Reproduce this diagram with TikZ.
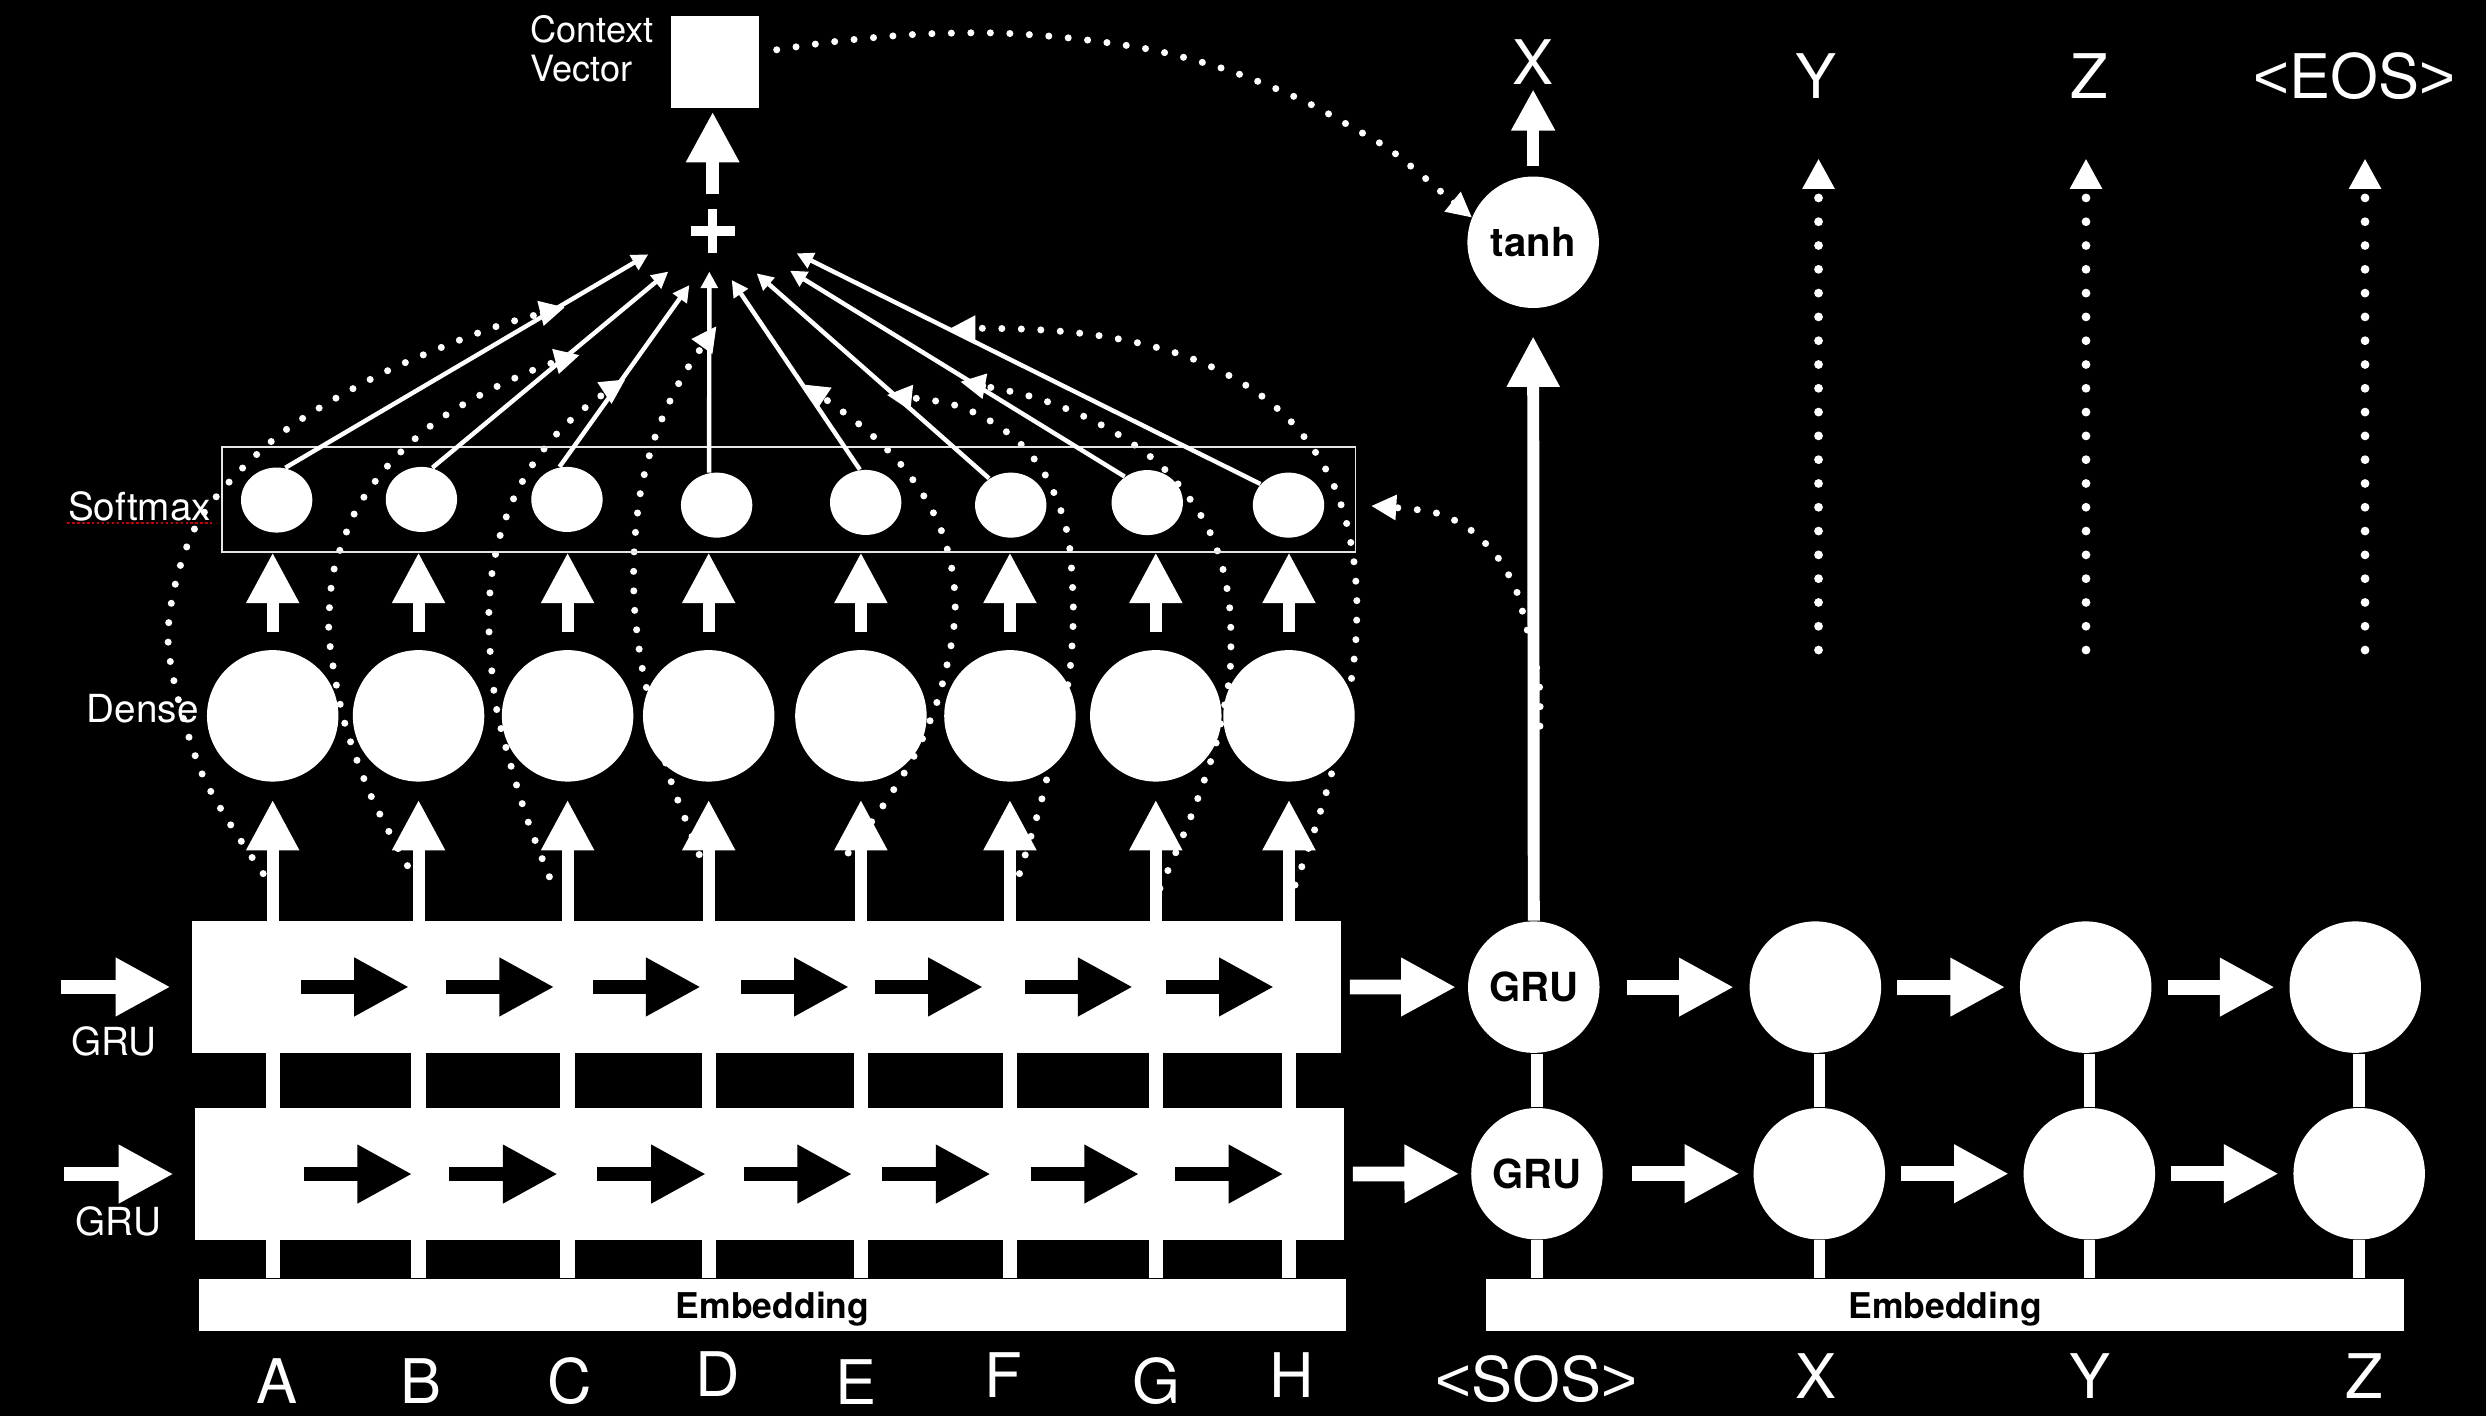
\documentclass[tikz,border=0pt]{standalone}
\usepackage{fontspec}
\setmainfont{TeX Gyre Heros}
\newfontfamily\brfont{Liberation Sans}
\usetikzlibrary{arrows.meta}
\usetikzlibrary{shapes.geometric}

\newcommand{\lt}{{\brfont <}}
\newcommand{\gt}{{\brfont >}}

\begin{document}
\begin{tikzpicture}[x=0.015855cm, y=-0.015855cm,
    neuron/.style={circle, fill=white, minimum size=37.4pt, inner sep=0pt,
      text=black, font=\fontsize{11.4}{13}\selectfont\bfseries},
    smax/.style={ellipse, fill=white, minimum width=20.3pt, minimum height=18.5pt, inner sep=0pt},
    gruband/.style={rectangle, fill=white, minimum width=327pt, minimum height=37.4pt, inner sep=0pt},
    embbox/.style={rectangle, fill=white, minimum height=14.9pt, inner sep=0pt, text depth=0pt,
      text=black, font=\fontsize{10.1}{12}\selectfont\bfseries},
    biglabel/.style={text=white, font=\fontsize{17.5}{21}\selectfont, inner sep=0pt, anchor=base},
    smalllabel/.style={text=white, font=\fontsize{11}{13}\selectfont, inner sep=0pt, anchor=base},
    uparrow/.style={white, line width=3.4pt, -{Triangle[width=14.2pt,length=14.4pt]}},
    rarrow/.style={line width=4.2pt, -{Triangle[width=15.6pt,length=15.6pt]}},
    attn/.style={white, line width=1.26pt, -{Triangle[width=4.7pt,length=4.7pt]}},
    dotline/.style={white, line width=2pt, line cap=round, dash pattern=on 0pt off 5.55pt,
      -{Triangle[width=6.8pt,length=7.2pt]}},
    bigdots/.style={white, line width=2.5pt, line cap=round, dash pattern=on 0pt off 6.77pt,
      -{Triangle[width=8.6pt,length=8.6pt]}},
    vbar/.style={white, line width=4.06pt},
    dbar/.style={white, line width=3.25pt}
  ]
  \fill[black] (0,0) rectangle (1568,893);
  \useasboundingbox (0,0) rectangle (1568,893);

  % dotted paths (behind everything)
  \draw[dotline] plot[smooth] coordinates {(166,551) (127,487) (106,403) (124,331) (174,276) (238,237) (307,208) (356.4,193.8)};
  \draw[dotline] plot[smooth] coordinates {(257,546) (234,502) (217,454.5) (208,406) (208,380.5) (211.5,356) (225,321) (247,291) (275,266) (307,247) (341,231.5) (365.8,223.9)};
  \draw[dotline] plot[smooth] coordinates {(346.5,553) (333,518) (322,482) (313,446) (309,409) (308.4,384) (310.7,359) (316.4,334.5) (325.4,311.4) (338,290) (354,270.6) (373,254) (394.6,239.2)};
  \draw[dotline] plot[smooth] coordinates {(441,539) (431.8,515.5) (423,492) (413,455) (404.7,419.4) (400.1,382) (400.1,345) (404.5,307.6) (414.6,271.6) (430.4,237.6) (452,205.6)};
  \draw[dotline] plot[smooth] coordinates {(535,538) (557.6,507.3) (577.7,474.7) (591.8,440.4) (600.4,404.3) (602.5,379.5) (599.6,354.8) (592.2,330.7) (580.3,309) (565.1,289.3) (547,271.8) (527.3,256.5) (506.7,242.4)};
  \draw[dotline] plot[smooth] coordinates {(643,551) (650.3,527.3) (657.4,503) (665,470) (673.8,430) (676.3,405) (676.9,380) (674.4,343) (668.1,319) (657.4,296.4) (641.2,277.5) (620.6,263.2) (597.3,254.2) (559.2,249.1)};
  \draw[dotline] plot[smooth] coordinates {(731.6,560.3) (741.7,537.6) (751.4,514.5) (760,490.9) (767.4,467.2) (775.1,430.3) (776.4,405) (775.3,380.3) (770.5,355.7) (761.5,332.2) (748.2,311.6) (731.4,292.9) (711.5,277.9) (689.8,265.5) (666.9,255.6) (642.9,248.1) (605.5,240.7)};
  \draw[dotline] plot[smooth] coordinates {(816.8,558.2) (825.2,535.3) (833,511.3) (840.1,487.1) (846,460) (852.7,426.4) (855.3,401.6) (855.7,376.3) (853.6,351.5) (848.5,326.9) (840.1,303.4) (827.3,281.7) (811.3,262.8) (792,247) (770.5,234.4) (747.4,224.5) (723.6,217.6) (699,212.6) (674.2,209.4) (649.2,207.7) (624.4,207.1) (599.2,207.1)};
  \draw[dotline] plot[smooth] coordinates {(971.3,458) (971,433) (967,410) (962.9,396) (956.2,372) (944,350.7) (926.1,333.2) (903.4,322.9) (864.7,319.1)};
  \draw[dotline] plot[smooth] coordinates {(489.9,31.4) (527.6,26.1) (577.2,21.7) (627.9,20.8) (675.8,24.1) (726.4,31.4) (774.3,44.2) (820.5,62.8) (854.3,81.1) (875.8,93.8) (894.9,109) (914,125.3) (928.5,137.3)};
  \foreach \x in {1147,1315.7,1491.7}
    \draw[bigdots] (\x,410) -- (\x,100);

  % encoder
  \node[gruband] (enc1) at (483.5,622.5) {};
  \node[gruband] (enc2) at (485.2,740.5) {};
  \node[embbox, minimum width=326.3pt] (emb) at (487.3,823.2) {Embedding};
  \node[smalllabel] (lg1) at (71.8,666) {GRU};
  \node[smalllabel] (lg2) at (74.7,779.3) {GRU};
  \node[smalllabel] (lden) at (90.1,456) {Dense};
  \node[smalllabel] (lsm) at (88,328) {Softmax};
  \draw[red!80!black, line width=0.7pt, dash pattern=on 0.7pt off 0.7pt]
    ([yshift=-0.8pt]lsm.base west) -- ([yshift=-0.8pt]lsm.base east);

  \node[draw=white!90!black, line width=0.45pt, minimum width=322.5pt, minimum height=29.8pt,
    inner sep=0pt] (smbox) at (497.5,315) {};
  \foreach \i/\x/\y in {1/174.5/315.4, 2/265.8/315, 3/357.6/315, 4/452/318.6,
                        5/546/316.9, 6/637.5/318.6, 7/723.6/317, 8/812.7/318.6}
    \node[smax] (s\i) at (\x,\y) {};
  \foreach \i/\x in {1/172, 2/264, 3/358, 4/447, 5/543, 6/637, 7/729, 8/813}
    \node[neuron] (d\i) at (\x,451.5) {};

  \foreach \n/\x/\y in {A/174.6/885, B/265.5/885, C/359.5/885, D/452.8/881,
                        E/539.8/886, F/633/881.7, G/729.3/885, H/814.6/881.7}
    \node[biglabel] (in\n) at (\x,\y) {\n};

  \foreach \i in {1,...,8} {
    \draw[vbar] (d\i.south |- emb.north) -- (d\i.south |- enc1.south);
    \draw[uparrow] (d\i.south |- enc1.north) -- ([yshift=-5pt]d\i.south);
    \draw[uparrow] ([yshift=5pt]d\i.north) -- (d\i.north |- smbox.south);
  }

  \foreach \x in {190,281.6,374,467.5,552,646.5,735.5}
    \draw[rarrow, black] (\x,622.5) -- ++(68,0);
  \foreach \x in {191.5,283.3,376.8,469,556.4,650,741}
    \draw[rarrow, black] (\x,740.5) -- ++(68.5,0);

  \coordinate (src1) at (38.3,622.5);
  \coordinate (src2) at (40.6,740.5);
  \draw[rarrow, white, shorten >=5.9pt] (src1) -- (enc1.west);
  \draw[rarrow, white, shorten >=5.8pt] (src2) -- (enc2.west);

  % attention
  \node[minimum size=12.2pt, inner sep=0pt] (plus) at (449.5,145.7) {};
  \draw[white, line width=2.6pt] (plus.north) -- (plus.south) (plus.west) -- (plus.east);
  \node[fill=white, minimum width=24.9pt, minimum height=26.2pt, inner sep=0pt] (ctx) at (451.1,39) {};
  \node[text=white, font=\fontsize{10.3}{12}\selectfont, inner sep=0pt, anchor=base west] (ctxa) at (334,26.6) {Context};
  \node[text=white, font=\fontsize{10.3}{12}\selectfont, inner sep=0pt, anchor=base west] (ctxb) at (334,51.2) {Vector};
  \draw[uparrow, line width=3.8pt, shorten >=0.9pt] ([yshift=4.1pt]plus.north) -- (plus.north |- ctx.south);

  \coordinate (t1) at (408.9,160.4);
  \coordinate (t2) at (421.5,171.3);
  \coordinate (t3) at (434.8,179.8);
  \coordinate (t4) at (447.4,171.3);
  \coordinate (t5) at (461.5,176.6);
  \coordinate (t6) at (477.2,172.4);
  \coordinate (t7) at (498.3,170.7);
  \coordinate (t8) at (502.5,159.8);
  \foreach \i/\a in {1/75, 2/71, 3/103, 4/103, 5/100, 6/129, 7/131, 8/143}
    \draw[attn] (s\i.\a) -- (t\i);

  % decoder
  \node[neuron] (tanh) at (967,152.8) {tanh};
  \node[neuron] (dg1) at (967.4,622.6) {GRU};
  \node[neuron] (dx1) at (1145,622.6) {};
  \node[neuron] (dy1) at (1315.5,622.6) {};
  \node[neuron] (dz1) at (1485.5,622.6) {};
  \node[neuron] (dg2) at (969.4,740.3) {GRU};
  \node[neuron] (dx2) at (1147.5,740.3) {};
  \node[neuron] (dy2) at (1317.8,740.3) {};
  \node[neuron] (dz2) at (1488,740.3) {};
  \node[embbox, minimum width=261.2pt] (demb) at (1226.9,823.2) {Embedding};

  \node[biglabel] (decSOS) at (969,884) {\lt SOS\gt};
  \node[biglabel] (decX) at (1145.5,882) {X};
  \node[biglabel] (decY) at (1318.5,882) {Y};
  \node[biglabel] (decZ) at (1491,882) {Z};
  \node[biglabel] (outX) at (967,53.5) {X};
  \node[biglabel] (outY) at (1145.5,62) {Y};
  \node[biglabel] (outZ) at (1317.5,62) {Z};
  \node[biglabel] (outEOS) at (1484.8,62) {\lt EOS\gt};

  \foreach \a/\b in {dg1/dg2, dx1/dx2, dy1/dy2, dz1/dz2}
    \draw[dbar] (\b.north) -- (\b.north |- \a.south);
  \foreach \b in {dg2,dx2,dy2,dz2}
    \draw[dbar] (\b.south) -- (\b.south |- demb.north);

  \draw[rarrow, white, shorten <=2.25pt, shorten >=3.25pt] (enc1.east) -- (dg1.west);
  \draw[rarrow, white, shorten <=2.35pt, shorten >=3.2pt] (enc2.east) -- (dg2.west);
  \draw[rarrow, white, shorten <=7.7pt, shorten >=4.3pt] (dg1) -- (dx1);
  \draw[rarrow, white, shorten <=8.2pt, shorten >=3.8pt] (dg2) -- (dx2);
  \foreach \a/\b in {dx1/dy1, dy1/dz1, dx2/dy2, dy2/dz2}
    \draw[rarrow, white, shorten <=4.4pt, shorten >=4pt] (\a) -- (\b);

  \draw[uparrow] (dg1.north) -- ([yshift=-7.85pt]tanh.south);
  \draw[white, line width=3.4pt, -{Triangle[width=11.7pt,length=11.7pt]}]
    ([yshift=2.8pt]tanh.north) -- ([yshift=-1.1pt]outX.south);
\end{tikzpicture}
\end{document}
